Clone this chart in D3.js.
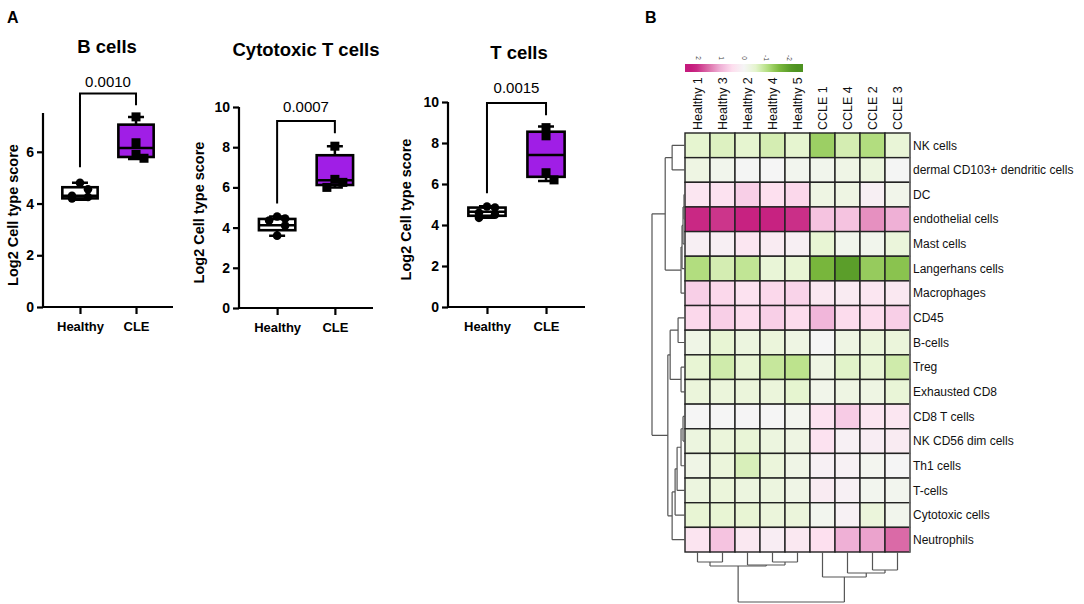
<!DOCTYPE html>
<html><head><meta charset="utf-8">
<script src="https://cdn.jsdelivr.net/npm/d3@7"></script>
<style>body{margin:0;background:#fff;} svg{display:block;font-family:"Liberation Sans",Arial,sans-serif;}</style>
</head><body><svg id="c" width="1084" height="604"></svg>
<script>
// ---------------- Panel A data ----------------
const groups = ["Healthy", "CLE"];
const boxTitles = ["B cells", "Cytotoxic T cells", "T cells"];
const pValues = ["0.0010", "0.0007", "0.0015"];
const yAxisLabel = "Log2 Cell type score";

const bHealthy = [4.8, 4.55, 4.3, 4.2, 4.25];
const bCLE = [7.35, 6.35, 5.9, 5.75];
const ctHealthy = [4.55, 4.45, 4.35, 4.1, 3.6];
const ctCLE = [8.05, 6.4, 6.25, 6.0];
const tHealthy = [4.9, 4.85, 4.6, 4.5, 4.35];
const tCLE = [8.75, 8.35, 6.55, 6.2];

// box stats: [min, q1, median, q3, max]
const bHealthyBox = [4.15, 4.2, 4.3, 4.63, 4.8];
const bCLEBox = [5.72, 5.8, 6.15, 7.05, 7.35];
const ctHealthyBox = [3.6, 3.87, 4.12, 4.43, 4.55];
const ctCLEBox = [6.0, 6.12, 6.35, 7.6, 8.05];
const tHealthyBox = [4.35, 4.45, 4.65, 4.85, 4.92];
const tCLEBox = [6.15, 6.35, 7.42, 8.55, 8.8];

const yTicksB = [0, 2, 4, 6];
const yTicksCT = [0, 2, 4, 6, 8, 10];
const yTicksT = [0, 2, 4, 6, 8, 10];
const yMaxB = 7.5, yMaxCT = 10, yMaxT = 10;

// significance brackets: [left leg bottom, top, right leg bottom]
const bracketB = [5.4, 8.25, 7.8];
const bracketCT = [5.2, 9.3, 8.7];
const bracketT = [5.55, 9.95, 9.35];

// ---------------- Panel B data ----------------
const heatColumns = ["Healthy 1", "Healthy 3", "Healthy 2", "Healthy 4", "Healthy 5", "CCLE 1", "CCLE 4", "CCLE 2", "CCLE 3"];
const heatRows = ["NK cells", "dermal CD103+ dendritic cells", "DC", "endothelial cells", "Mast cells", "Langerhans cells",
  "Macrophages", "CD45", "B-cells", "Treg", "Exhausted CD8", "CD8 T cells", "NK CD56 dim cells", "Th1 cells",
  "T-cells", "Cytotoxic cells", "Neutrophils"];
const heatValues = [
  [-0.5, -0.6, -0.5, -0.7, -0.5, -1.25, -0.7, -1.05, -0.4],
  [-0.25, -0.12, -0.02, 0.0, -0.1, -0.12, -0.2, -0.3, -0.02],
  [0.35, 0.45, 0.7, 0.5, 0.6, -0.25, -0.25, 0.15, -0.15],
  [2.1, 2.0, 2.15, 2.15, 2.05, 0.85, 0.85, 1.3, 1.05],
  [0.15, 0.15, 0.35, 0.25, 0.15, -0.45, -0.12, -0.12, -0.35],
  [-1.05, -0.7, -0.9, -0.4, -0.45, -1.6, -2.0, -1.3, -1.4],
  [0.7, 0.6, 0.45, 0.6, 0.65, 0.3, 0.25, 0.35, 0.3],
  [0.6, 0.7, 0.55, 0.7, 0.55, 1.0, 0.55, 0.55, 0.7],
  [-0.2, -0.45, -0.3, -0.35, -0.25, 0.0, -0.25, -0.35, -0.35],
  [-0.45, -0.75, -0.45, -0.85, -0.95, -0.25, -0.55, -0.45, -0.75],
  [-0.35, -0.35, -0.35, -0.35, -0.5, -0.15, -0.25, -0.25, -0.4],
  [0.0, 0.0, 0.02, 0.0, -0.08, 0.45, 0.75, 0.35, 0.35],
  [-0.3, -0.35, -0.4, -0.3, -0.25, 0.45, 0.12, 0.2, 0.25],
  [-0.2, -0.35, -0.65, -0.35, -0.2, 0.12, 0.1, -0.08, 0.0],
  [-0.3, -0.35, -0.3, -0.3, -0.2, 0.25, 0.12, -0.1, -0.1],
  [-0.45, -0.45, -0.45, -0.35, -0.35, -0.1, 0.1, -0.35, -0.12],
  [0.4, 0.85, 0.3, 0.2, 0.3, 0.5, 1.05, 1.15, 1.6]
];
const legendTicks = [2, 1, 0, -1, -2];

// hierarchical clustering (merge heights, relative)
const rowTree = {h: 1.0, c: [
  {h: 0.6, c: [
    {h: 0.39, c: ["NK cells", "dermal CD103+ dendritic cells"]},
    {h: 0.12, c: [{h: 0.09, c: [{h: 0.06, c: [{h: 0.03, c: ["DC", "endothelial cells"]}, "Mast cells"]}, "Langerhans cells"]}, "Macrophages"]}
  ]},
  {h: 0.52, c: [
    {h: 0.45, c: [{h: 0.21, c: ["CD45", "B-cells"]}, {h: 0.12, c: ["Treg", "Exhausted CD8"]}]},
    {h: 0.39, c: [{h: 0.30, c: [{h: 0.24, c: [{h: 0.12, c: [{h: 0.06, c: ["CD8 T cells", "NK CD56 dim cells"]}, "Th1 cells"]}, "T-cells"]}, "Cytotoxic cells"]}, "Neutrophils"]}
  ]}
]};
const colTree = {h: 1.0, c: [
  {h: 0.28, c: [{h: 0.2, c: ["Healthy 1", "Healthy 3"]}, {h: 0.26, c: ["Healthy 2", {h: 0.2, c: ["Healthy 4", "Healthy 5"]}]}]},
  {h: 0.5, c: ["CCLE 1", {h: 0.42, c: ["CCLE 4", {h: 0.36, c: ["CCLE 2", "CCLE 3"]}]}]}
]};

// ---------------- Drawing ----------------
const svg = d3.select("#c");
const purple = "#a01ee6";

svg.append("text").attr("x", 7).attr("y", 23).attr("font-size", 16).attr("font-weight", "bold").text("A");
svg.append("text").attr("x", 645).attr("y", 23).attr("font-size", 16).attr("font-weight", "bold").text("B");

const panels = [
  {title: boxTitles[0], p: pValues[0], h: bHealthy, c: bCLE, hb: bHealthyBox, cb: bCLEBox, ticks: yTicksB, yMax: yMaxB, br: bracketB,
   x0: 43, x1: 173, y0: 307, yTop: 113, titleX: 107, titleY: 53, pY: 87, labX: 13},
  {title: boxTitles[1], p: pValues[1], h: ctHealthy, c: ctCLE, hb: ctHealthyBox, cb: ctCLEBox, ticks: yTicksCT, yMax: yMaxCT, br: bracketCT,
   x0: 239, x1: 373, y0: 308, yTop: 107, titleX: 306, titleY: 56, pY: 112, labX: 199},
  {title: boxTitles[2], p: pValues[2], h: tHealthy, c: tCLE, hb: tHealthyBox, cb: tCLEBox, ticks: yTicksT, yMax: yMaxT, br: bracketT,
   x0: 448, x1: 585, y0: 307, yTop: 102, titleX: 519, titleY: 59, pY: 93, labX: 406}
];

panels.forEach(P => {
  const g = svg.append("g");
  const y = d3.scaleLinear().domain([0, P.yMax]).range([P.y0, P.yTop]);
  const x = d3.scalePoint().domain(groups).range([P.x0, P.x1]).padding(0.66);
  const bw = x.step() * 0.63;

  // y axis
  const ya = g.append("g").attr("transform", `translate(${P.x0},0)`)
    .call(d3.axisLeft(y).tickValues(P.ticks).tickSize(6).tickPadding(3).tickFormat(d3.format("d")));
  ya.select(".domain").attr("stroke", "#000").attr("stroke-width", 2.2).attr("d", `M0,${P.y0}V${P.yTop}`);
  ya.selectAll(".tick line").attr("stroke", "#000").attr("stroke-width", 2.2);
  ya.selectAll(".tick text").attr("font-size", 14).attr("font-weight", "bold").attr("fill", "#000")
    .attr("font-family", '"Liberation Sans",Arial,sans-serif');

  // x axis
  const xa = g.append("g").attr("transform", `translate(0,${P.y0})`)
    .call(d3.axisBottom(x).tickSize(7).tickPadding(8));
  xa.select(".domain").attr("stroke", "#000").attr("stroke-width", 2.2).attr("d", `M${P.x0},0H${P.x1}`);
  xa.selectAll(".tick line").attr("stroke", "#000").attr("stroke-width", 2.2);
  xa.selectAll(".tick text").attr("font-size", 13).attr("font-weight", "bold").attr("fill", "#000")
    .attr("font-family", '"Liberation Sans",Arial,sans-serif');

  // y label
  g.append("text").attr("transform", `translate(${P.labX},${(P.y0 + P.yTop) / 2 + 5}) rotate(-90)`)
    .attr("text-anchor", "middle").attr("dy", "0.35em").attr("font-size", 14.5).attr("font-weight", "bold").text(yAxisLabel);
  // title
  g.append("text").attr("x", P.titleX).attr("y", P.titleY).attr("text-anchor", "middle")
    .attr("font-size", 18.5).attr("font-weight", "bold").text(P.title);

  // bracket
  const xl = x("Healthy"), xr = x("CLE");
  g.append("path").attr("fill", "none").attr("stroke", "#000").attr("stroke-width", 2)
    .attr("d", `M${xl},${y(P.br[0])}V${y(P.br[1])}H${xr}V${y(P.br[2])}`);
  g.append("text").attr("x", (xl + xr) / 2).attr("y", P.pY).attr("text-anchor", "middle")
    .attr("font-size", 15).text(P.p);

  // boxes
  [["Healthy", P.hb, P.h, "#fff"], ["CLE", P.cb, P.c, purple]].forEach(([grp, st, pts, fill]) => {
    const cx = x(grp);
    g.append("path").attr("stroke", "#000").attr("stroke-width", 2.5).attr("fill", "none")
      .attr("d", `M${cx},${y(st[0])}V${y(st[1])}M${cx},${y(st[3])}V${y(st[4])}` +
        `M${cx - 8},${y(st[0])}H${cx + 8}M${cx - 8},${y(st[4])}H${cx + 8}`);
    g.append("rect").attr("x", cx - bw / 2).attr("width", bw)
      .attr("y", y(st[3])).attr("height", y(st[1]) - y(st[3]))
      .attr("fill", fill).attr("stroke", "#000").attr("stroke-width", 2.6);
    g.append("line").attr("x1", cx - bw / 2).attr("x2", cx + bw / 2).attr("y1", y(st[2])).attr("y2", y(st[2]))
      .attr("stroke", "#000").attr("stroke-width", 2.5);
    const sorted = pts.slice().sort((a, b) => b - a);
    let prevY = -100, prevOff = 0;
    sorted.forEach(v => {
      const py = y(v);
      let off = 0;
      if (Math.abs(py - prevY) < 8) off = prevOff <= 0 ? 8 : -8;
      prevY = py; prevOff = off;
      if (grp === "Healthy") {
        g.append("circle").attr("cx", cx + off).attr("cy", py).attr("r", 4.3).attr("fill", "#000");
      } else {
        g.append("rect").attr("x", cx + off - 4.5).attr("y", py - 4.5).attr("width", 9).attr("height", 9).attr("fill", "#000");
      }
    });
  });
});

// ---------------- Heatmap ----------------
const hx = d3.scaleBand().domain(heatColumns).range([685, 910]);
const hy = d3.scaleBand().domain(heatRows).range([133, 552]);
const color = d3.scaleLinear()
  .domain([2.2, 1.5, 1.0, 0.5, 0, -0.5, -1.0, -1.5, -2.2])
  .range(["#c51b7d", "#de77ae", "#f1b6da", "#fde0ef", "#f5f5f5", "#e6f5d0", "#b8e186", "#7fbc41", "#4d9221"])
  .clamp(true);

const hg = svg.append("g");
heatRows.forEach((r, i) => {
  heatColumns.forEach((c, j) => {
    hg.append("rect").attr("x", hx(c)).attr("y", hy(r)).attr("width", hx.bandwidth()).attr("height", hy.bandwidth())
      .attr("fill", color(heatValues[i][j])).attr("stroke", "#222").attr("stroke-width", 1.4);
  });
  hg.append("text").attr("x", 913).attr("y", hy(r) + hy.bandwidth() / 2).attr("dy", "0.35em")
    .attr("font-size", 12).attr("fill", "#111").text(r);
});
hg.append("line").attr("x1", 910).attr("x2", 910).attr("y1", 133).attr("y2", 552).attr("stroke", "#777").attr("stroke-width", 1.5);
heatColumns.forEach(c => {
  hg.append("text").attr("transform", `translate(${hx(c) + hx.bandwidth() / 2},130) rotate(-90)`)
    .attr("dy", "0.35em").attr("font-size", 12.5).attr("fill", "#111").text(c);
});

// legend
const lx = d3.scaleLinear().domain([2.6, -2.6]).range([685, 803]);
const defs = svg.append("defs");
const grad = defs.append("linearGradient").attr("id", "lg");
d3.range(0, 1.0001, 0.05).forEach(t => {
  grad.append("stop").attr("offset", t).attr("stop-color", color(lx.invert(685 + t * 118)));
});
svg.append("rect").attr("x", lx(2.6)).attr("y", 64).attr("width", lx(-2.6) - lx(2.6)).attr("height", 8).attr("fill", "url(#lg)");
legendTicks.forEach(v => {
  svg.append("text").attr("transform", `translate(${lx(v)},58) rotate(90)`).attr("text-anchor", "middle")
    .attr("dy", "0.35em").attr("font-size", 6.5).attr("fill", "#444").text(v);
});

// dendrograms
function drawTree(node, g, leafPos, hScale, horizontal) {
  if (typeof node === "string") return {pos: leafPos(node), h: 0};
  const kids = node.c.map(k => drawTree(k, g, leafPos, hScale, horizontal));
  const H = hScale(node.h);
  let d = "";
  kids.forEach(k => {
    const hk = hScale(k.h);
    d += horizontal ? `M${hk},${k.pos}H${H}` : `M${k.pos},${hk}V${H}`;
  });
  d += horizontal ? `M${H},${kids[0].pos}V${kids[1].pos}` : `M${kids[0].pos},${H}H${kids[1].pos}`;
  g.append("path").attr("d", d).attr("fill", "none").attr("stroke", "#555").attr("stroke-width", 1.2);
  return {pos: (kids[0].pos + kids[1].pos) / 2, h: node.h};
}
const dg = svg.append("g");
drawTree(rowTree, dg, r => hy(r) + hy.bandwidth() / 2, d3.scaleLinear().domain([0, 1]).range([685, 652]), true);
drawTree(colTree, dg, c => hx(c) + hx.bandwidth() / 2, d3.scaleLinear().domain([0, 1]).range([552, 602]), false);
</script>
</body></html>
